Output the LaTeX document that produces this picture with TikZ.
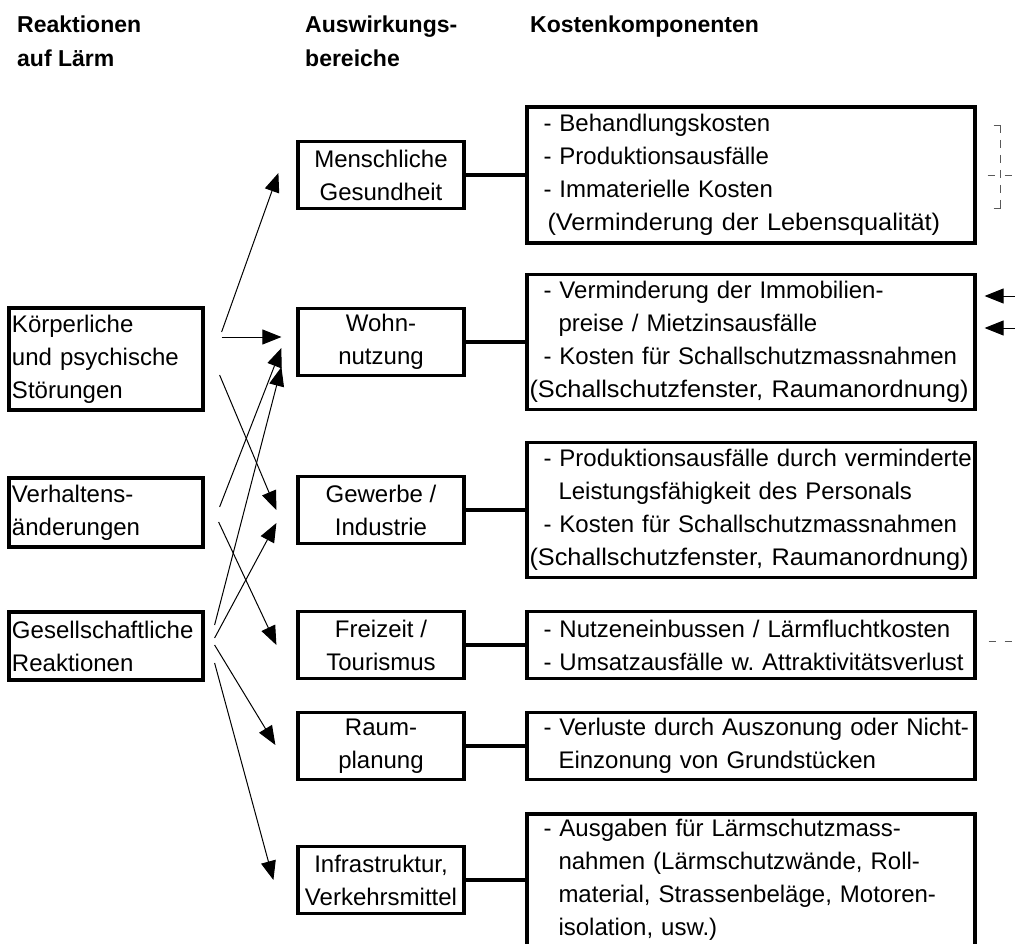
\documentclass[tikz,border=0pt]{standalone}
\usepackage{fontspec}
\usepackage{graphicx}
\setmainfont{Liberation Sans}
\usetikzlibrary{arrows.meta,calc}
\newcommand\kdash{\hspace*{15pt}}
\newcommand\kcont{\hspace*{30pt}}
\newcommand\kwide[1]{\scalebox{1.055}[1]{#1}}
\frenchspacing
\begin{document}
\begin{tikzpicture}[x=1pt,y=-1pt,
  box/.style={draw, line width=3.2pt, font=\fontsize{24}{33}\selectfont, inner sep=0pt},
  lbox/.style={box, minimum width=194pt, align=left, text width=188pt},
  mbox/.style={box, minimum width=166pt, minimum height=67pt, align=center},
  cbox/.style={box, minimum width=448pt, align=left, text width=445pt},
  link/.style={line width=3.2pt},
  arr/.style={line width=1pt, -{Triangle[length=19pt,width=15pt]}},
  frag/.style={black!65, line width=0.9pt},
  head/.style={font=\bfseries\fontsize{23}{33}\selectfont, anchor=base west, inner sep=0pt}]
\useasboundingbox (0,0) rectangle (1015,944);
% headers
\node[head] (h1a) at (17,33) {Reaktionen};
\node[head] (h1b) at (17,67) {auf Lärm};
\node[head] (h2a) at (305,33) {Auswirkungs-};
\node[head] (h2b) at (305,67) {bereiche};
\node[head] (h3) at (530,33) {Kostenkomponenten};
% left column
\node[lbox, minimum height=102pt] (K) at (106,359) {Körperliche\\und psychische\\Störungen};
\node[lbox, minimum height=69pt] (V) at (106,512.5) {Verhaltens-\\änderungen};
\node[lbox, minimum height=68pt] (G) at (106,646) {Gesellschaftliche\\Reaktionen};
% middle column
\node[mbox] (M) at (381,175) {Menschliche\\Gesundheit};
\node[mbox] (W) at (381,342) {Wohn-\\nutzung};
\node[mbox] (Gw) at (381,510) {Gewerbe /\\Industrie};
\node[mbox] (F) at (381,645) {Freizeit /\\Tourismus};
\node[mbox] (R) at (381,746) {Raum-\\planung};
\node[mbox] (I) at (381,880) {Infrastruktur,\\Verkehrsmittel};
% cost column
\node[cbox, minimum height=136pt] (C1) at (751,175) {\kdash- Behandlungskosten\\\kdash- Produktionsausfälle\\\kdash- Immaterielle Kosten\\\hspace*{19pt}\kwide{(Verminderung der Lebensqualität)}};
\node[cbox, minimum height=135pt] (C2) at (751,342) {\kdash- Verminderung der Immobilien-\\\kcont preise / Mietzinsausfälle\\\kdash- Kosten für Schallschutzmassnahmen\\\hspace*{1pt}\kwide{(Schallschutzfenster, Raumanordnung)}};
\node[cbox, minimum height=135pt] (C3) at (751,510) {\kdash\mbox{- Produktionsausfälle durch verminderte}\\\kcont Leistungsfähigkeit des Personals\\\kdash- Kosten für Schallschutzmassnahmen\\\hspace*{1pt}\kwide{(Schallschutzfenster, Raumanordnung)}};
\node[cbox, minimum height=67pt] (C4) at (751,645) {\kdash- Nutzeneinbussen / Lärmfluchtkosten\\\kdash\mbox{- Umsatzausfälle w. Attraktivitätsverlust}};
\node[cbox, minimum height=67pt] (C5) at (751,746) {\kdash\mbox{- Verluste durch Auszonung oder Nicht-}\\\kcont Einzonung von Grundstücken};
\node[cbox, minimum height=132pt] (C6) at (751,880) {\kdash- Ausgaben für Lärmschutzmass-\\\kcont nahmen (Lärmschutzwände, Roll-\\\kcont material, Strassenbeläge, Motoren-\\\kcont isolation, usw.)};
% links
\draw[link] (M.east) -- (C1.west);
\draw[link] (W.east) -- (C2.west);
\draw[link] (Gw.east) -- (C3.west);
\draw[link] (F.east) -- (C4.west);
\draw[link] (R.east) -- (C5.west);
\draw[link] (I.east) -- (C6.west);
% arrows
\draw[arr] ($(K.east)+(17,-27)$) -- ($(M.west)+(-18,-2)$);
\draw[arr] ($(K.east)+(17,-22)$) -- ($(W.west)+(-15,-5)$);
\draw[arr] ($(K.east)+(15,16)$) -- ($(Gw.west)+(-20,0)$);
\draw[arr] ($(V.east)+(15,-5.5)$) -- ($(W.west)+(-15,6)$);
\draw[arr] ($(V.east)+(14,9.5)$) -- ($(F.west)+(-20,0)$);
\draw[arr] ($(G.east)+(10,-21)$) -- ($(W.west)+(-15,25)$);
\draw[arr] ($(G.east)+(10,-8)$) -- ($(Gw.west)+(-20,13)$);
\draw[arr] ($(G.east)+(10,-1)$) -- ($(R.west)+(-21,-1)$);
\draw[arr] ($(G.east)+(10,17)$) -- ($(I.west)+(-23,0)$);
% fragments at the right edge
\coordinate (b1) at ($(C1.east)+(17,-50)$);
\coordinate (b2) at ($(C1.east)+(17,33)$);
\draw[frag] (b1) -- ++(7,0) -- ++(0,8);
\draw[frag] (b2) -- ++(7,0) -- ++(0,-8);
\draw[frag, dash pattern=on 8pt off 7pt, dash phase=-7pt] ($(b1)+(7,8)$) -- ($(b2)+(7,-8)$);
\draw[frag] ($(C1.east)+(11,0)$) -- ++(7,0);
\draw[frag] ($(C1.east)+(28,0)$) -- ++(7,0);
\coordinate (e1) at (1015,296);
\coordinate (e2) at (1015,328);
\draw[arr] (e1) -- ($(C2.east)+(8,-46)$);
\draw[arr] (e2) -- ($(C2.east)+(8,-14)$);
\coordinate (e3) at (1015,641);
\draw[frag, dash pattern=on 7pt off 9pt] ($(C4.east)+(12,-4)$) -- (e3);
\end{tikzpicture}
\end{document}
